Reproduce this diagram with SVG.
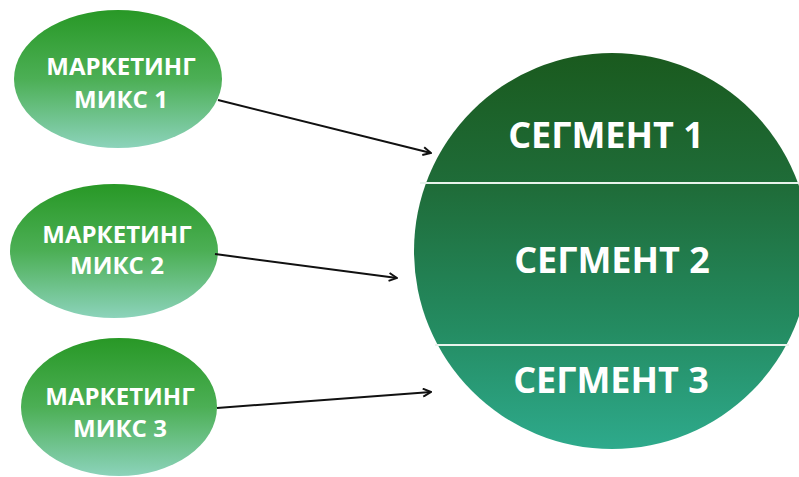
<svg xmlns="http://www.w3.org/2000/svg" width="799" height="477" viewBox="0 0 799 477">
  <style>
    .mix-label { font-family: "Open Sans", "Noto Sans", "Liberation Sans", sans-serif; font-weight: 700; font-size: 24px; fill: #ffffff; text-anchor: middle; }
    .seg-label { font-family: "Open Sans", "Noto Sans", "Liberation Sans", sans-serif; font-weight: 700; font-size: 36px; fill: #ffffff; text-anchor: middle; }
    .link { stroke: #111111; stroke-width: 2; fill: none; marker-end: url(#arrow); }
    .divider { stroke: #e8f3ec; stroke-width: 2; }
  </style>
  <defs>
    <linearGradient id="mixFill" x1="0" y1="0" x2="0" y2="1">
      <stop offset="0" stop-color="#289826"/>
      <stop offset="0.5" stop-color="#4caf55"/>
      <stop offset="1" stop-color="#8cd3bb"/>
    </linearGradient>
    <linearGradient id="segFill" gradientUnits="userSpaceOnUse" x1="0" y1="53" x2="0" y2="449">
      <stop offset="0" stop-color="#1a5a1e"/>
      <stop offset="0.35" stop-color="#1f6d3a"/>
      <stop offset="0.7" stop-color="#248c62"/>
      <stop offset="1" stop-color="#2eaa8c"/>
    </linearGradient>
    <marker id="arrow" viewBox="0 0 10 10" refX="9" refY="5" markerWidth="10" markerHeight="10" markerUnits="userSpaceOnUse" orient="auto">
      <path d="M1,1 L9,5 L1,9" fill="none" stroke="#111111" stroke-width="2"/>
    </marker>
  </defs>

  <!-- segmented target circle -->
  <g id="segments">
    <circle cx="612" cy="251" r="198" fill="url(#segFill)"/>
    <line class="divider" x1="420" y1="183" x2="799" y2="183"/>
    <line class="divider" x1="435" y1="345" x2="789" y2="345"/>
    <text class="seg-label" x="606" y="148">СЕГМЕНТ 1</text>
    <text class="seg-label" x="612" y="273">СЕГМЕНТ 2</text>
    <text class="seg-label" x="611" y="393">СЕГМЕНТ 3</text>
  </g>

  <g id="mix1">
    <ellipse cx="118" cy="79" rx="104" ry="69" fill="url(#mixFill)"/>
    <text class="mix-label" x="121" y="75">МАРКЕТИНГ</text>
    <text class="mix-label" x="121" y="108">МИКС 1</text>
  </g>

  <g id="mix2">
    <ellipse cx="114" cy="251" rx="104" ry="67" fill="url(#mixFill)"/>
    <text class="mix-label" x="117" y="243">МАРКЕТИНГ</text>
    <text class="mix-label" x="117" y="274">МИКС 2</text>
  </g>

  <g id="mix3">
    <ellipse cx="119" cy="407" rx="98" ry="69" fill="url(#mixFill)"/>
    <text class="mix-label" x="120" y="405">МАРКЕТИНГ</text>
    <text class="mix-label" x="120" y="437">МИКС 3</text>
  </g>

  <g id="connectors">
    <line class="link" x1="218" y1="100" x2="431" y2="153"/>
    <line class="link" x1="215" y1="254" x2="397" y2="278"/>
    <line class="link" x1="217" y1="408" x2="431" y2="392"/>
  </g>
</svg>
